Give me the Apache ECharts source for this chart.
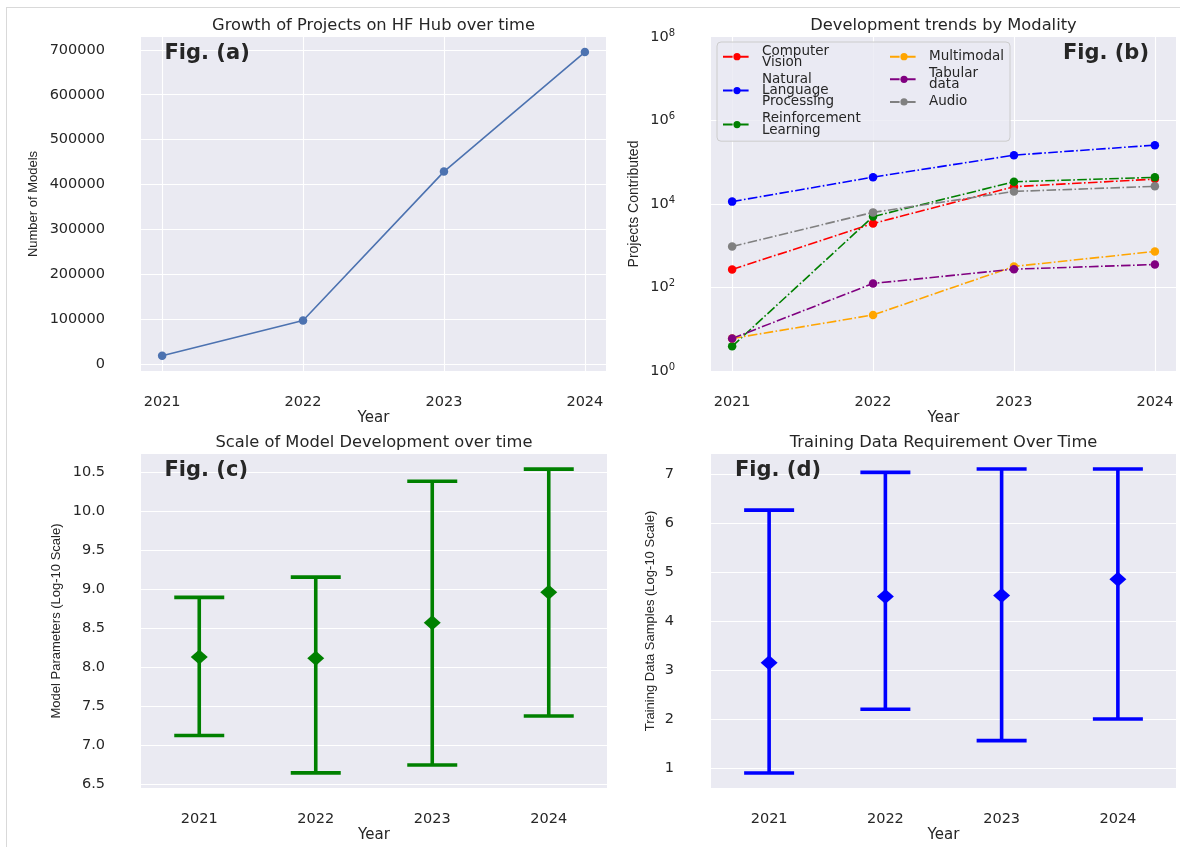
<!DOCTYPE html>
<html>
<head>
<meta charset="utf-8">
<script src="https://cdn.jsdelivr.net/npm/echarts@6/dist/echarts.min.js"></script>
<style>
html, body { margin: 0; padding: 0; background: #ffffff; }
#chart { position: absolute; left: 0; top: 0; width: 1180px; height: 847px; }
#frame { position: absolute; left: 6px; top: 7px; width: 1174px; height: 840px;
  border-left: 1px solid #d9d9d9; border-top: 1px solid #d9d9d9; pointer-events: none; }
</style>
</head>
<body>
<div id="chart"></div>
<div id="frame"></div>
<script>
// ---------------- data ----------------
const years = ['2021', '2022', '2023', '2024'];
const yearNums = [2021, 2022, 2023, 2024];

// Fig (a): number of models on the hub
const hubModels = [19000, 97500, 429000, 695000];

// Fig (b): projects contributed per modality (log scale)
const modalityNames = ['Computer\nVision', 'Natural\nLanguage\nProcessing', 'Reinforcement\nLearning',
                       'Multimodal', 'Tabular\ndata', 'Audio'];
const cvProjects = [270, 3400, 26000, 39500];
const nlpProjects = [11400, 44000, 148000, 257000];
const rlProjects = [3.9, 5000, 34000, 43500];
const multimodalProjects = [6, 22, 320, 730];
const tabularProjects = [6, 125, 275, 355];
const audioProjects = [960, 6300, 20000, 26500];
const modalityValues = [cvProjects, nlpProjects, rlProjects, multimodalProjects, tabularProjects, audioProjects];
const modalityColors = ['#ff0000', '#0000ff', '#008000', '#ffa500', '#800080', '#808080'];
// decade exponents labelled on the log axis of Fig (b)
const logTickExponents = [0, 2, 4, 6, 8];

// Fig (c): model parameters (log10)
const paramLow = [7.12, 6.64, 6.74, 7.37];
const paramMid = [8.125, 8.11, 8.565, 8.955];
const paramHigh = [8.89, 9.15, 10.38, 10.535];

// Fig (d): training data samples (log10)
const dataLow = [0.90, 2.20, 1.56, 2.00];
const dataMid = [3.15, 4.50, 4.52, 4.85];
const dataHigh = [6.26, 7.03, 7.10, 7.10];

// ---------------- styles ----------------
const FONT = "'DejaVu Sans', Verdana, sans-serif";
const YFONT = "'Liberation Sans', Arial, sans-serif";
const TXT = '#262626';
const BG = '#EAEAF2';
const tickText = { fontFamily: FONT, fontSize: 14.5, color: TXT };
const yNameText = (size) => ({ fontFamily: YFONT, fontSize: size, color: TXT, lineHeight: size });
const xNameText = { fontFamily: FONT, fontSize: 15, color: TXT, lineHeight: 15 };
const gridLine = { show: true, showMinLine: false, showMaxLine: false, lineStyle: { color: '#ffffff', width: 1.1 } };

const chart = echarts.init(document.getElementById('chart'), null, { renderer: 'canvas' });

function titleAt(text, cx, top) {
  return { text: text, left: cx, top: top, textAlign: 'center', padding: 0,
    textStyle: { fontFamily: FONT, fontSize: 16.3, fontWeight: 'normal', color: TXT, lineHeight: 18 } };
}
function figLabel(text, x, top, align) {
  return { text: text, left: x, top: top, textAlign: align, padding: 0,
    textStyle: { fontFamily: FONT, fontSize: 21, fontWeight: 'bold', color: TXT, lineHeight: 22 } };
}
function gridAt(left, top, width, height) {
  return { left: left, top: top, width: width, height: height, show: true,
    backgroundColor: BG, borderWidth: 0, containLabel: false, outerBoundsMode: 'none' };
}

function yearValueAxis(gridIndex) {
  return {
    type: 'value', gridIndex: gridIndex, min: 2020.85, max: 2024.15, minInterval: 1, splitNumber: 3,
    axisLine: { show: false }, axisTick: { show: false }, splitLine: gridLine,
    axisLabel: Object.assign({ margin: 24, showMinLabel: false, showMaxLabel: false,
      formatter: (v) => String(Math.round(v)) }, tickText),
    name: 'Year', nameLocation: 'middle', nameGap: 38, nameTextStyle: xNameText
  };
}
function yearCategoryAxis(gridIndex) {
  return {
    type: 'category', gridIndex: gridIndex, data: years, boundaryGap: true,
    axisLine: { show: false }, axisTick: { show: false }, splitLine: { show: false },
    axisLabel: Object.assign({ margin: 24 }, tickText),
    name: 'Year', nameLocation: 'middle', nameGap: 38, nameTextStyle: xNameText
  };
}

function errorBarSeries(name, axisIndex, low, high, color) {
  return {
    name: name, type: 'custom', xAxisIndex: axisIndex, yAxisIndex: axisIndex,
    data: years.map((y, i) => [i, low[i], high[i]]),
    renderItem: function (params, api) {
      const lo = api.coord([api.value(0), api.value(1)]);
      const hi = api.coord([api.value(0), api.value(2)]);
      const half = 25;
      const st = { stroke: color, lineWidth: 3.6 };
      return { type: 'group', children: [
        { type: 'line', shape: { x1: lo[0], y1: hi[1], x2: lo[0], y2: lo[1] }, style: st },
        { type: 'line', shape: { x1: hi[0] - half, y1: hi[1], x2: hi[0] + half, y2: hi[1] }, style: st },
        { type: 'line', shape: { x1: lo[0] - half, y1: lo[1], x2: lo[0] + half, y2: lo[1] }, style: st }
      ] };
    },
    z: 2
  };
}

const dashDot = [9.6, 2.4, 1.6, 2.4];

const option = {
  animation: false,
  title: [
    titleAt('Growth of Projects on HF Hub over time', 373.5, 17),
    titleAt('Development trends by Modality', 943.5, 17),
    titleAt('Scale of Model Development over time', 374, 434),
    titleAt('Training Data Requirement Over Time', 943.5, 434),
    figLabel('Fig. (a)', 164.5, 43, 'left'),
    figLabel('Fig. (b)', 1149, 43, 'right'),
    figLabel('Fig. (c)', 164.5, 460, 'left'),
    figLabel('Fig. (d)', 735, 460, 'left')
  ],
  legend: {
    orient: 'vertical', left: 717, top: 42, itemGap: 3, itemWidth: 28, itemHeight: 9,
    backgroundColor: 'rgba(234,234,242,0.8)', borderColor: '#cccccc', borderWidth: 1, borderRadius: 4,
    padding: [2, 6, 4, 5],
    textStyle: { fontFamily: FONT, fontSize: 13.5, color: TXT, lineHeight: 11.3, padding: [0, 0, 0, 6] },
    data: [
      { name: modalityNames[0], textStyle: { width: 124 } },
      { name: modalityNames[1], textStyle: { width: 124 } },
      { name: modalityNames[2], textStyle: { width: 124 } },
      '\n',
      { name: modalityNames[3] },
      { name: modalityNames[4] },
      { name: modalityNames[5] }
    ]
  },
  grid: [
    gridAt(141, 37, 465, 334),
    gridAt(711, 37, 465, 334),
    gridAt(141, 454, 466, 334),
    gridAt(711, 454, 465, 334)
  ],
  xAxis: [
    yearValueAxis(0),
    yearValueAxis(1),
    yearCategoryAxis(2),
    yearCategoryAxis(3)
  ],
  yAxis: [
    {
      type: 'value', gridIndex: 0, min: -14785, max: 728485, splitNumber: 7,
      axisLine: { show: false }, axisTick: { show: false }, splitLine: gridLine,
      axisLabel: Object.assign({ margin: 36, showMinLabel: false, showMaxLabel: false,
        formatter: (v) => String(Math.round(v)) }, tickText),
      name: 'Number of Models', nameLocation: 'middle', nameGap: 101, nameTextStyle: yNameText(13)
    },
    {
      // log axis on which the modality series are plotted
      type: 'log', logBase: 10, gridIndex: 1, min: 1, max: 1e8, position: 'left', offset: 0,
      axisLine: { show: false }, axisTick: { show: false }, minorTick: { show: false },
      splitLine: { show: false }, axisLabel: { show: false },
      name: 'Projects Contributed', nameLocation: 'middle', nameGap: 70, nameTextStyle: yNameText(14)
    },
    {
      type: 'value', gridIndex: 2, min: 6.446, max: 10.729, splitNumber: 8,
      axisLine: { show: false }, axisTick: { show: false }, splitLine: gridLine,
      axisLabel: Object.assign({ margin: 36, showMinLabel: false, showMaxLabel: false,
        formatter: (v) => v.toFixed(1) }, tickText),
      name: 'Model Parameters (Log-10 Scale)', nameLocation: 'middle', nameGap: 78, nameTextStyle: yNameText(13)
    },
    {
      type: 'value', gridIndex: 3, min: 0.594, max: 7.405, splitNumber: 7,
      axisLine: { show: false }, axisTick: { show: false }, splitLine: gridLine,
      axisLabel: Object.assign({ margin: 37, showMinLabel: false, showMaxLabel: false,
        formatter: (v) => String(Math.round(v)) }, tickText),
      name: 'Training Data Samples (Log-10 Scale)', nameLocation: 'middle', nameGap: 54, nameTextStyle: yNameText(13)
    },
    {
      // decade-exponent axis that carries the 10^n labels and grid lines of Fig (b)
      type: 'value', gridIndex: 1, position: 'left', offset: 0,
      min: logTickExponents[0], max: logTickExponents[logTickExponents.length - 1],
      interval: logTickExponents[1] - logTickExponents[0],
      axisLine: { show: false }, axisTick: { show: false }, splitLine: gridLine,
      axisLabel: {
        margin: 36,
        formatter: (v) => '{b|10}{s|' + Math.round(v) + '}',
        rich: {
          b: { fontFamily: FONT, fontSize: 14.5, color: TXT, lineHeight: 18 },
          s: { fontFamily: FONT, fontSize: 10, color: TXT, lineHeight: 8, verticalAlign: 'top' }
        }
      }
    }
  ],
  series: [
    {
      name: 'Models', type: 'line', xAxisIndex: 0, yAxisIndex: 0,
      data: yearNums.map((y, i) => [y, hubModels[i]]),
      symbol: 'circle', symbolSize: 8.5,
      lineStyle: { color: '#4C72B0', width: 1.6 }, itemStyle: { color: '#4C72B0' }
    }
  ].concat(modalityNames.map((name, k) => ({
    name: name, type: 'line', xAxisIndex: 1, yAxisIndex: 1,
    data: yearNums.map((y, i) => [y, modalityValues[k][i]]),
    symbol: 'circle', symbolSize: 8.5,
    lineStyle: { color: modalityColors[k], width: 1.6, type: dashDot },
    itemStyle: { color: modalityColors[k] }
  }))).concat([
    errorBarSeries('Params range', 2, paramLow, paramHigh, '#008000'),
    {
      name: 'Params mean', type: 'scatter', xAxisIndex: 2, yAxisIndex: 2,
      data: paramMid, symbol: 'diamond', symbolSize: [17, 15],
      itemStyle: { color: '#008000', opacity: 1 }, z: 3
    },
    errorBarSeries('Data range', 3, dataLow, dataHigh, '#0000ff'),
    {
      name: 'Data mean', type: 'scatter', xAxisIndex: 3, yAxisIndex: 3,
      data: dataMid, symbol: 'diamond', symbolSize: [17, 15],
      itemStyle: { color: '#0000ff', opacity: 1 }, z: 3
    }
  ])
};

chart.setOption(option);
</script>
</body>
</html>
